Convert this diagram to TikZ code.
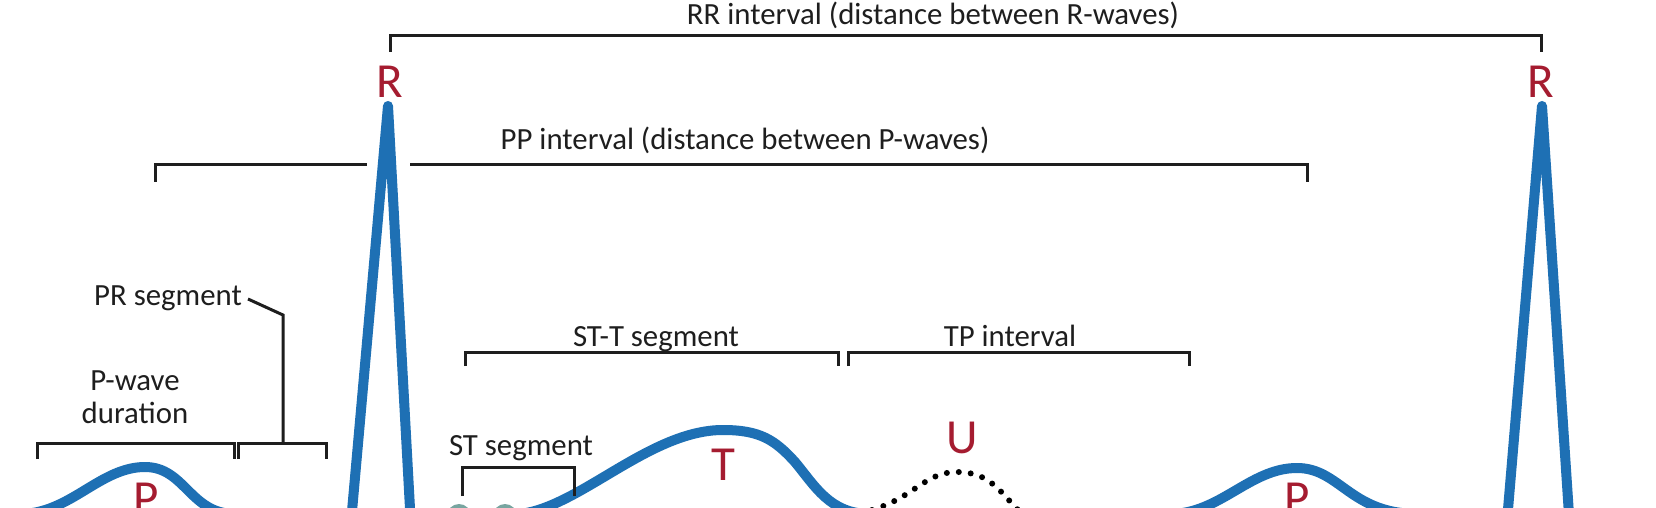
\documentclass[tikz,border=0pt]{standalone}
\usepackage{fontspec}
\setmainfont{Carlito}
\definecolor{ecgblue}{RGB}{30,112,180}
\definecolor{ecgred}{RGB}{165,28,48}
\definecolor{labelgray}{RGB}{30,30,30}
\definecolor{jteal}{RGB}{120,165,160}
\begin{document}
\begin{tikzpicture}[x=0.5pt,y=-0.5pt,
  bracket/.style={line width=1.5pt, draw=labelgray, line join=miter},
  lbl/.style={font=\fontsize{15.4}{18}\selectfont, text=labelgray, inner sep=0pt, anchor=base},
  wavelbl/.style={font=\fontsize{24.5}{28}\selectfont, text=ecgred, inner sep=0pt, anchor=base},
  ecg/.style={draw=ecgblue, line width=5pt, line join=round, line cap=round},
  uwave/.style={draw=black, line width=3pt, line cap=round, dash pattern=on 0pt off 6pt},
  jdot/.style={fill=jteal, draw=none}]
\useasboundingbox (0,0) rectangle (1656,508);
\fill[white] (0,0) rectangle (1656,508);
\begin{scope}
\clip (0,0) rectangle (1656,508);
% ECG trace
\draw[ecg] (-10,514) -- (20,514)
  .. controls (70,514) and (100,467) .. (145,467)
  .. controls (185,467) and (190,514) .. (235,514)
  -- (343,514) -- (349,545) -- (388,106) -- (412,545) -- (418,514)
  -- (520,514)
  .. controls (580,507) and (650,430) .. (723,430)
  .. controls (760,430) and (775,440) .. (795,462)
  .. controls (815,486) and (830,514) .. (870,514)
  -- (1170,514)
  .. controls (1220,514) and (1250,468) .. (1297,468)
  .. controls (1340,468) and (1350,514) .. (1418,514)
  -- (1499,514) -- (1505,545) -- (1542,106) -- (1571,545) -- (1577,514)
  -- (1670,514);
% U wave
\draw[uwave] (872,510) .. controls (915,497) and (925,472) .. (957,472)
  .. controls (990,472) and (1000,492) .. (1020,512);
% J-point markers
\fill[jdot] (459,516) circle[radius=12];
\fill[jdot] (505,516) circle[radius=12];
% P labels (cut at bottom, as in the reference)
\node[wavelbl] (P1) at (146,514) {P};
\node[wavelbl] (P2) at (1297,514) {P};
\end{scope}
% wave labels
\node[wavelbl] (R1) at (390,98) {R};
\node[wavelbl] (R2) at (1541,98) {R};
\node[wavelbl] (T) at (723,480) {T};
\node[wavelbl] (U) at (962,453) {U};
% text labels
\node[lbl] (RR) at (933,25) {RR interval (distance between R-waves)};
\node[lbl] (PP) at (745,150) {PP interval (distance between P-waves)};
\node[lbl] (PR) at (168,305) {PR segment};
\node[lbl] (PW1) at (135,390) {P-wave};
\node[lbl] (PW2) at (135,423) {duration};
\node[lbl] (STT) at (656,346) {ST-T segment};
\node[lbl] (TP) at (1010,346) {TP interval};
\node[lbl] (ST) at (521,455) {ST segment};
% brackets
\draw[bracket] (390,52) -- (390,36) -- (1541,36) -- (1541,52);
\draw[bracket] (155,182) -- (155,165) -- (367,165);
\draw[bracket] (410,165) -- (1307,165) -- (1307,182);
\draw[bracket] (37,459) -- (37,443) -- (234,443) -- (234,459);
\draw[bracket] (238,459) -- (238,443) -- (326,443) -- (326,459);
\coordinate (PRlead) at (248,299);
\draw[bracket] (PRlead) -- (283,315) -- (283,443);
\draw[bracket] (465,366) -- (465,352) -- (838,352) -- (838,366);
\draw[bracket] (848,366) -- (848,352) -- (1189,352) -- (1189,366);
\draw[bracket] (462,496) -- (462,467) -- (574,467) -- (574,496);
\end{tikzpicture}
\end{document}
